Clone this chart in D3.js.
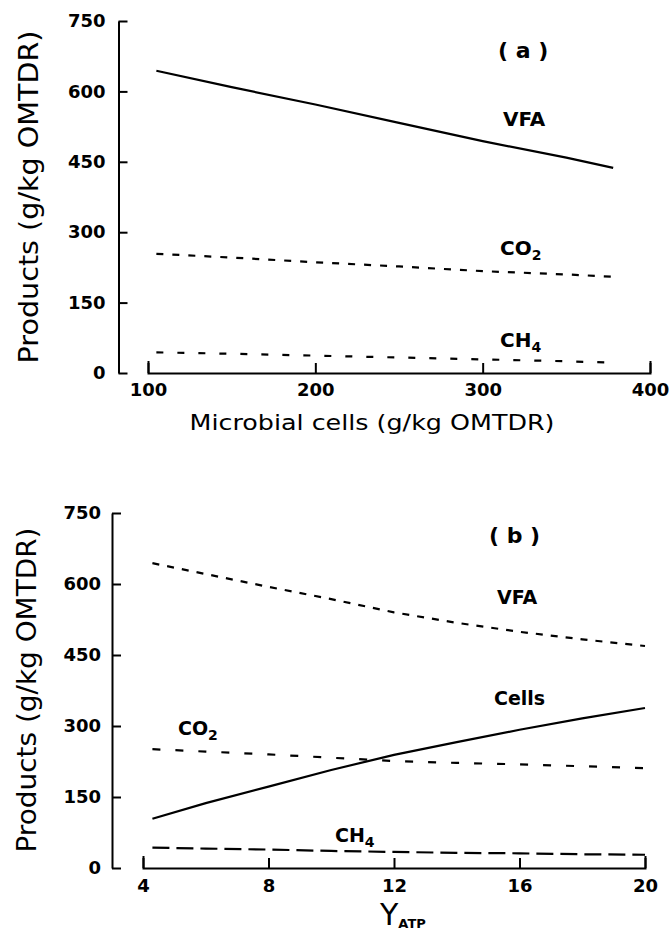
<!DOCTYPE html>
<head>
<meta http-equiv="Content-type" content="text/html;charset=UTF-8">
</head>
<style>
body { margin: 0; background: #fff; }
svg { display: block; }
.axis text { font-family: "DejaVu Sans", sans-serif; font-weight: bold; font-size: 18px; fill: #000; }
.axis path, .axis line { stroke: #000; stroke-width: 2; }
.lbl { font-family: "DejaVu Sans", sans-serif; font-weight: bold; fill: #000; }
.title { font-family: "DejaVu Sans", sans-serif; fill: #000; }
</style>
<svg width="672" height="932"></svg>
<script src="https://d3js.org/d3.v7.min.js"></script>
<script>

// panel (a): products vs microbial cells
var cellsA = [105, 150, 200, 250, 300, 350, 378];
var vfaA   = [644, 609, 572, 533, 494, 459, 437];
var co2A   = [254, 246, 236, 227, 217, 210, 205];
var ch4A   = [44, 41, 37, 33, 29, 25, 22];

// panel (b): products vs Y_ATP
var yatpB  = [4.3, 6, 8, 10, 12, 14, 16, 18, 20];
var vfaB   = [644, 621, 594, 568, 540, 518, 499, 483, 469];
var cellsB = [104, 137, 172, 207, 239, 266, 292, 316, 338];
var co2B   = [251, 246, 240, 233, 226, 222, 219, 215, 211];
var ch4B   = [43, 41, 39, 36, 34, 32, 31, 29, 28];

var yTicks  = [0, 150, 300, 450, 600, 750];
var xTicksA = [100, 200, 300, 400];
var xTicksB = [4, 8, 12, 16, 20];

var svg = d3.select("svg");

function panel(o) {
  var x = d3.scaleLinear().domain(o.xDomain).range([o.x0, o.x1]);
  var y = d3.scaleLinear().domain([0, 750]).range([o.y0, o.y1]);
  var g = svg.append("g");

  g.append("g")
      .attr("class", "axis")
      .attr("transform", "translate(" + o.yAxisX + ",0)")
      .call(d3.axisLeft(y).tickValues(yTicks).tickSizeInner(-9).tickSizeOuter(0).tickPadding(o.yPad));

  g.append("g")
      .attr("class", "axis")
      .attr("transform", "translate(0," + o.y0 + ")")
      .call(d3.axisBottom(x).tickValues(o.xTicks).tickSizeInner(-10).tickSizeOuter(-12).tickPadding(o.xPad));

  var line = d3.line()
      .x(function(d) { return x(d[0]); })
      .y(function(d) { return y(d[1]); });

  o.series.forEach(function(s) {
    g.append("path")
        .datum(d3.zip(o.xs, s.v))
        .attr("fill", "none")
        .attr("stroke", "#000")
        .attr("stroke-width", 2.2)
        .attr("stroke-dasharray", s.dash)
        .attr("d", line);
  });

  o.labels.forEach(function(l) {
    var t = g.append("text")
        .attr("class", "lbl")
        .attr("x", l.x)
        .attr("y", l.y)
        .attr("font-size", l.size || 19)
        .text(l.t);
    if (l.sub) {
      t.append("tspan").attr("dy", 5).attr("font-size", 14).text(l.sub);
    }
  });

  svg.append("text")
      .attr("class", "title")
      .attr("transform", "translate(" + o.ytX + "," + o.ytY + ") rotate(-90)")
      .attr("text-anchor", "middle")
      .attr("font-size", 27)
      .attr("textLength", o.ytLen)
      .attr("lengthAdjust", "spacingAndGlyphs")
      .text("Products (g/kg OMTDR)");
}

panel({
  xDomain: [100, 400], x0: 148, x1: 650, y0: 373, y1: 21, yAxisX: 118.5,
  xTicks: xTicksA, yPad: 13, xPad: 10, xs: cellsA,
  series: [
    {v: vfaA, dash: null},
    {v: co2A, dash: "7,9"},
    {v: ch4A, dash: "7,14"}
  ],
  labels: [
    {t: "( a )", x: 498, y: 58, size: 22},
    {t: "VFA", x: 503, y: 126, size: 20},
    {t: "CO", sub: "2", x: 500, y: 255, size: 20},
    {t: "CH", sub: "4", x: 500, y: 347, size: 20}
  ],
  ytX: 38, ytY: 197, ytLen: 333
});

svg.append("text")
    .attr("class", "title")
    .attr("x", 372)
    .attr("y", 430)
    .attr("text-anchor", "middle")
    .attr("font-size", 22)
    .attr("textLength", 365)
    .attr("lengthAdjust", "spacingAndGlyphs")
    .text("Microbial cells (g/kg OMTDR)");

panel({
  xDomain: [4, 20], x0: 143, x1: 645, y0: 868, y1: 513, yAxisX: 112,
  xTicks: xTicksB, yPad: 11, xPad: 11, xs: yatpB,
  series: [
    {v: vfaB, dash: "7,8"},
    {v: cellsB, dash: null},
    {v: co2B, dash: "8,15"},
    {v: ch4B, dash: "17,7"}
  ],
  labels: [
    {t: "( b )", x: 489, y: 543, size: 22},
    {t: "VFA", x: 497, y: 604, size: 19},
    {t: "Cells", x: 494, y: 705, size: 19},
    {t: "CO", sub: "2", x: 178, y: 735, size: 19},
    {t: "CH", sub: "4", x: 335, y: 842, size: 19}
  ],
  ytX: 36, ytY: 690, ytLen: 325
});

var yl = svg.append("text")
    .attr("class", "title")
    .attr("x", 380)
    .attr("y", 925)
    .attr("font-size", 30)
    .text("Y");
yl.append("tspan")
    .attr("dy", 3)
    .attr("font-size", 13)
    .attr("font-weight", "bold")
    .text("ATP");

</script>
